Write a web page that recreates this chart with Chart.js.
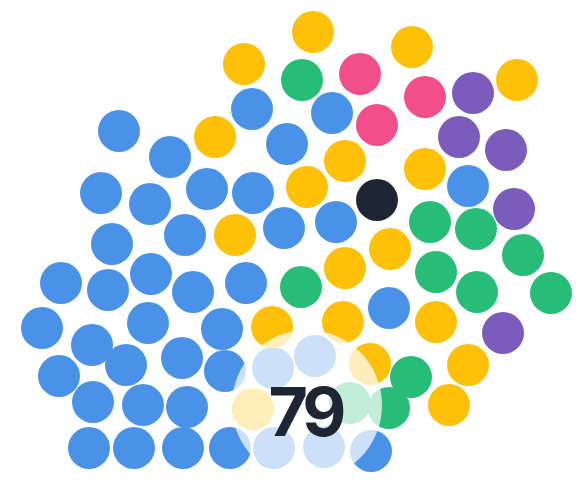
<!DOCTYPE html>
<html>
<head>
<meta charset="utf-8">
<script src="https://cdn.jsdelivr.net/npm/chart.js@4"></script>
<style>
  html, body { margin: 0; padding: 0; background: #fff; }
  #wrap { position: relative; width: 581px; height: 481px; }
  #total {
    position: absolute; transform: translate(-50%, -50%);
    font-family: Inter, "Open Sans", sans-serif; font-weight: 700;
    font-size: 68px; color: #1f2633; letter-spacing: -5px; line-height: 1;
  }
</style>
</head>
<body>
<div id="wrap">
  <canvas id="myChart" width="581" height="481"></canvas>
  <div id="total">79</div>
</div>
<script>
"use strict";

// dot positions: [x, y]
let blueDots = [
  [252,109],[332,113],[119,131],[170,157],[287,144],[101,193],[150,204],[207,189],
  [253,193],[468,186],[112,244],[185,235],[284,228],[336,222],[61,283],[108,290],
  [151,274],[193,292],[246,283],[42,328],[92,345],[148,323],[222,329],[389,308],
  [126,365],[182,358],[225,371],[59,376],[93,402],[143,405],[187,407],[89,448],
  [134,448],[183,448],[230,448],[371,451],[273,368],[315,356],[274,448],[324,447]
];
let yellowDots = [
  [244,64],[313,32],[412,47],[517,80],[215,137],[345,161],[425,169],[307,187],
  [235,235],[390,249],[345,268],[272,327],[343,322],[436,322],[370,364],[468,365],
  [449,405],[253,409]
];
let greenDots = [
  [302,80],[430,222],[476,229],[523,255],[436,272],[301,287],[477,292],[551,293],
  [411,377],[389,408],[350,403]
];
let pinkDots = [[360,74],[425,97],[377,125]];
let purpleDots = [[473,93],[459,137],[506,150],[514,209],[503,333]];
let blackDots = [[377,200]];

let totalCount = 79;
let highlight = [307, 405];

let dotRadius = 21;
let highlightRadius = 75;

function toPoints(list, r) {
    return list.map(function (p) { return { x: p[0], y: p[1], r: r }; });
}

let _Chart = document.getElementById("myChart");
document.getElementById("total").textContent = totalCount;

let labelPlugin = {
    id: "totalLabel",
    afterDraw: function (chart) {
        let lbl = document.getElementById("total");
        lbl.style.left = (chart.scales.x.getPixelForValue(highlight[0]) - 2) + "px";
        lbl.style.top = chart.scales.y.getPixelForValue(highlight[1] + 6) + "px";
    }
};

let newChart = new Chart(_Chart, {
    type: "bubble",
    data: {
        datasets: [
            { data: toPoints([highlight], highlightRadius), backgroundColor: "rgba(255,255,255,0.72)", order: 0 },
            { data: toPoints(blackDots, dotRadius), backgroundColor: "#1f2633", order: 1 },
            { data: toPoints(purpleDots, dotRadius), backgroundColor: "#7b5cbd", order: 1 },
            { data: toPoints(pinkDots, dotRadius), backgroundColor: "#f24f8a", order: 1 },
            { data: toPoints(greenDots, dotRadius), backgroundColor: "#27bd78", order: 1 },
            { data: toPoints(yellowDots, dotRadius), backgroundColor: "#ffc107", order: 1 },
            { data: toPoints(blueDots, dotRadius), backgroundColor: "#4a92e8", order: 1 }
        ]
    },
    options: {
        responsive: false,
        animation: false,
        events: [],
        layout: { padding: 0, autoPadding: false },
        elements: { point: { borderWidth: 0, hoverBorderWidth: 0 } },
        clip: false,
        plugins: { legend: { display: false }, tooltip: { enabled: false } },
        scales: {
            x: { type: "linear", min: 0, max: 581, display: false },
            y: { type: "linear", min: 0, max: 481, reverse: true, display: false }
        }
    },
    plugins: [labelPlugin]
});
</script>
</body>
</html>
